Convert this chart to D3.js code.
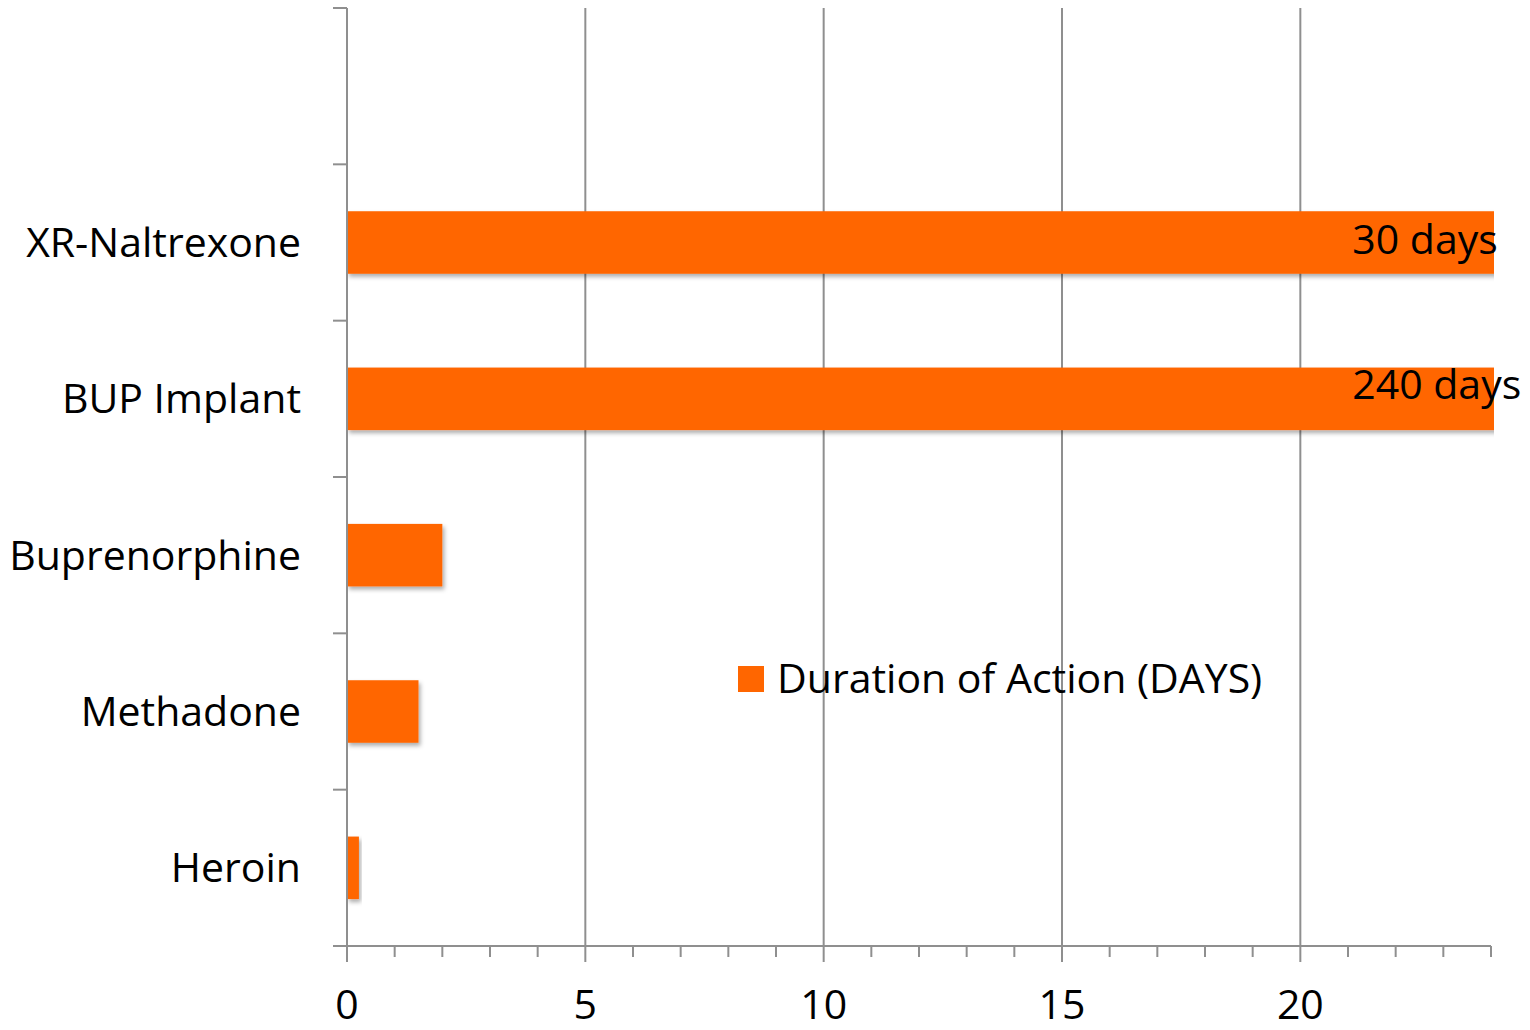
<!DOCTYPE html>
<html>
<head>
<meta charset="utf-8">
<script src="https://cdn.jsdelivr.net/npm/d3@7"></script>
<style>
  html, body { margin: 0; padding: 0; background: #fff; }
  svg { display: block; font-family: "Open Sans", Lato, sans-serif; }
</style>
</head>
<body>
<svg id="chart" width="1530" height="1030"></svg>
<script>
// Categories, top to bottom (first slot is an empty category row)
const categories = ["", "XR-Naltrexone", "BUP Implant", "Buprenorphine", "Methadone", "Heroin"];
// Duration of action, in days
const durations = [null, 30, 240, 2, 1.5, 0.25];
// Text labels printed on the long-acting bars
const valueLabels = [null, "30 days", "240 days", null, null, null];
const xTicks = [0, 5, 10, 15, 20];
const seriesName = "Duration of Action (DAYS)";

const barColor = "#ff6600";
const gridColor = "#8f8f8f";
const labelSize = 41;

const svg = d3.select("#chart");
const plotLeft = 347, plotRight = 1491, plotTop = 8, plotBottom = 946;

const x = d3.scaleLinear().domain([0, 24]).range([plotLeft, plotRight]);
const y = d3.scaleBand().domain(categories).range([plotTop, plotBottom])
  .paddingInner(0.6).paddingOuter(0.3);

const defs = svg.append("defs");
const shadow = defs.append("filter").attr("id", "barShadow")
  .attr("x", "-10%").attr("y", "-20%").attr("width", "130%").attr("height", "160%");
shadow.append("feDropShadow").attr("dx", 2).attr("dy", 3)
  .attr("stdDeviation", 2.2).attr("flood-color", "#000").attr("flood-opacity", 0.32);
defs.append("clipPath").attr("id", "plotClip")
  .append("rect").attr("x", plotLeft).attr("y", plotTop)
  .attr("width", plotRight - plotLeft + 3).attr("height", plotBottom - plotTop);

// Vertical gridlines at the major ticks
svg.append("g").selectAll("line").data(xTicks.filter(d => d > 0)).join("line")
  .attr("x1", d => x(d)).attr("x2", d => x(d))
  .attr("y1", plotTop).attr("y2", plotBottom)
  .attr("stroke", gridColor).attr("stroke-width", 2);

// Bars
const rows = categories.map((c, i) => ({ c, v: durations[i], label: valueLabels[i] }))
  .filter(d => d.v != null);

svg.append("g").attr("clip-path", "url(#plotClip)")
  .selectAll("rect").data(rows).join("rect")
  .attr("x", x(0)).attr("y", d => y(d.c))
  .attr("width", d => x(d.v) - x(0)).attr("height", y.bandwidth())
  .attr("fill", barColor).attr("filter", "url(#barShadow)");

// Value annotations on the clipped bars
const labelNudge = { "XR-Naltrexone": 11, "BUP Implant": 0.5 };
svg.append("g").selectAll("text").data(rows.filter(d => d.label)).join("text")
  .attr("x", x(21.09))
  .attr("y", d => y(d.c) + y.bandwidth() / 2 + labelNudge[d.c])
  .attr("font-size", 41).attr("fill", "#000")
  .text(d => d.label);

// Y axis line and category boundary ticks
const axis = svg.append("g").attr("stroke", gridColor).attr("stroke-width", 2);
axis.append("line").attr("x1", plotLeft).attr("x2", plotLeft).attr("y1", plotTop).attr("y2", plotBottom + 1);
axis.selectAll("line.ytick").data(d3.range(categories.length + 1)).join("line")
  .attr("class", "ytick")
  .attr("x1", plotLeft - 14).attr("x2", plotLeft)
  .attr("y1", i => plotTop + i * (plotBottom - plotTop) / categories.length)
  .attr("y2", i => plotTop + i * (plotBottom - plotTop) / categories.length);

// X axis line with major and minor ticks
axis.append("line").attr("x1", plotLeft - 14).attr("x2", plotRight).attr("y1", plotBottom).attr("y2", plotBottom);
axis.selectAll("line.xtick").data(d3.range(0, 25)).join("line")
  .attr("class", "xtick")
  .attr("x1", d => x(d)).attr("x2", d => x(d))
  .attr("y1", plotBottom).attr("y2", d => d % 5 === 0 ? plotBottom + 16 : plotBottom + 11);

// Tick labels
svg.append("g").selectAll("text").data(xTicks).join("text")
  .attr("x", d => x(d)).attr("y", 1019)
  .attr("text-anchor", "middle").attr("font-size", labelSize).attr("fill", "#000")
  .text(d => d);

svg.append("g").selectAll("text").data(categories.filter(c => c)).join("text")
  .attr("x", 301).attr("y", c => y(c) + y.bandwidth() / 2 + 14.5)
  .attr("text-anchor", "end").attr("font-size", labelSize).attr("fill", "#000")
  .text(c => c);

// Legend
const legend = svg.append("g");
legend.append("rect").attr("x", 738).attr("y", 666).attr("width", 26).attr("height", 26).attr("fill", barColor);
legend.append("text").attr("x", 777).attr("y", 693).attr("font-size", labelSize).attr("fill", "#000").text(seriesName);
</script>
</body>
</html>
